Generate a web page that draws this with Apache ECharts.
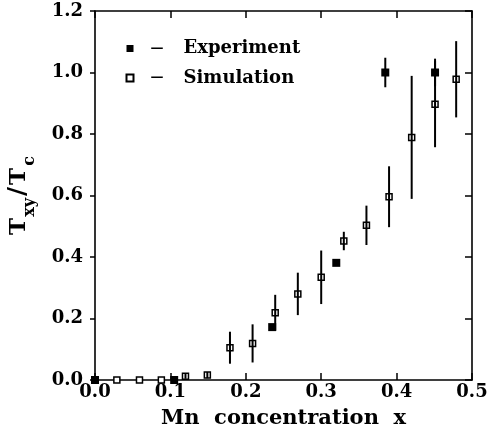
<!DOCTYPE html>
<html>
<head>
<meta charset="utf-8">
<script src="https://cdn.jsdelivr.net/npm/echarts@6/dist/echarts.min.js"></script>
<style>
  html, body { margin: 0; padding: 0; background: #fff; }
  #chart { width: 491px; height: 441px; }
</style>
</head>
<body>
<div id="chart"></div>
<script>
// Measured ordering temperature ratio vs Mn concentration
const expX   = [0, 0.105, 0.235, 0.32, 0.385, 0.451];
const expY   = [0, 0, 0.172, 0.381, 1.0, 1.0];
const expErr = [0, 0, 0, 0, 0.048, 0.045];

// Simulated values with their uncertainties
const simX   = [0.029, 0.059, 0.088, 0.12, 0.149, 0.179, 0.209, 0.239, 0.269, 0.30, 0.33, 0.36, 0.39, 0.42, 0.451, 0.479];
const simY   = [0, 0, 0, 0.012, 0.016, 0.105, 0.119, 0.219, 0.280, 0.334, 0.452, 0.503, 0.596, 0.789, 0.897, 0.978];
const simErr = [0, 0, 0, 0.008, 0.01, 0.052, 0.062, 0.058, 0.069, 0.087, 0.03, 0.064, 0.099, 0.2, 0.14, 0.124];

const xTicks = { min: 0, max: 0.5, step: 0.1 };
const yTicks = { min: 0, max: 1.2, step: 0.2 };

const FONT = "'DejaVu Serif', serif";

const pts = (xs, ys) => xs.map((x, i) => [x, ys[i]]);
const bars = (xs, ys, es) => xs.map((x, i) => [x, ys[i] - es[i], ys[i] + es[i]]).filter((d, i) => es[i] > 0);

function errorBars(api) {
  const a = api.coord([api.value(0), api.value(1)]);
  const b = api.coord([api.value(0), api.value(2)]);
  return {
    type: 'line',
    shape: { x1: a[0], y1: a[1], x2: b[0], y2: b[1] },
    style: { stroke: '#000', lineWidth: 2 }
  };
}

const chart = echarts.init(document.getElementById('chart'));

const axisLine = { show: true, onZero: false, lineStyle: { color: '#000', width: 1.6 } };
const tickIn = { show: true, inside: true, length: 7, lineStyle: { color: '#000', width: 1.5 } };
const tickFont = { fontFamily: FONT, fontWeight: 'bold', fontSize: 18, color: '#000' };

chart.setOption({
  animation: false,
  backgroundColor: '#fff',
  grid: { left: 95, right: 19, top: 11, bottom: 61, outerBoundsMode: 'none', containLabel: false },
  legend: {
    data: ['Experiment', 'Simulation'],
    orient: 'vertical',
    left: 125.5,
    top: 38.5,
    padding: 0,
    itemWidth: 7,
    itemHeight: 7,
    itemGap: 9.5,
    selectedMode: false,
    formatter: name => '{d|—}{t|' + name + '}',
    textStyle: {
      fontFamily: FONT,
      fontWeight: 'bold',
      color: '#000',
      lineHeight: 20,
      rich: {
        d: { fontFamily: FONT, fontWeight: 'bold', fontSize: 13, width: 37, align: 'center', color: '#000' },
        t: { fontFamily: FONT, fontWeight: 'bold', fontSize: 18, color: '#000', padding: [0, 0, 0, 8] }
      }
    }
  },
  xAxis: [{
    type: 'value',
    position: 'bottom',
    min: xTicks.min, max: xTicks.max, interval: xTicks.step,
    name: 'Mn  concentration  x',
    nameLocation: 'middle',
    nameGap: 28,
    nameTextStyle: { fontFamily: FONT, fontWeight: 'bold', fontSize: 21, color: '#000' },
    axisLine: axisLine,
    axisTick: tickIn,
    splitLine: { show: false },
    axisLabel: Object.assign({ margin: 3, formatter: v => v.toFixed(1) }, tickFont)
  }, {
    type: 'value',
    position: 'top',
    min: xTicks.min, max: xTicks.max, interval: xTicks.step,
    axisLine: axisLine,
    axisTick: tickIn,
    axisLabel: { show: false },
    splitLine: { show: false }
  }],
  yAxis: [{
    type: 'value',
    position: 'left',
    min: yTicks.min, max: yTicks.max, interval: yTicks.step,
    name: '{a|T}{s|xy}{sl|/}{a|T}{c|c}',
    nameLocation: 'middle',
    nameRotate: 90,
    nameGap: 64,
    nameTextStyle: {
      rich: {
        a:  { fontFamily: FONT, fontWeight: 'bold', fontSize: 23, color: '#000', lineHeight: 24, verticalAlign: 'bottom' },
        sl: { fontFamily: FONT, fontWeight: 'bold', fontSize: 25, color: '#000', lineHeight: 24, verticalAlign: 'bottom', padding: [0, 2, 0, 1] },
        s:  { fontFamily: FONT, fontWeight: 'bold', fontSize: 16, color: '#000', lineHeight: 24, verticalAlign: 'bottom', padding: [0, 1, -7, 1] },
        c:  { fontFamily: FONT, fontWeight: 'bold', fontSize: 16, color: '#000', lineHeight: 24, verticalAlign: 'bottom', padding: [0, 0, -7, 2] }
      }
    },
    axisLine: axisLine,
    axisTick: { show: true, inside: false, length: 5, lineStyle: { color: '#000', width: 1.5 } },
    splitLine: { show: false },
    axisLabel: Object.assign({ margin: 12, formatter: v => v.toFixed(1) }, tickFont)
  }, {
    type: 'value',
    position: 'right',
    min: yTicks.min, max: yTicks.max, interval: yTicks.step,
    axisLine: axisLine,
    axisTick: tickIn,
    axisLabel: { show: false },
    splitLine: { show: false }
  }],
  series: [{
    name: 'Simulation',
    type: 'scatter',
    data: pts(simX, simY),
    symbol: 'rect',
    symbolSize: 6,
    clip: false,
    z: 2,
    itemStyle: { color: '#fff', borderColor: '#000', borderWidth: 1.5, opacity: 1 }
  }, {
    name: 'Experiment',
    type: 'scatter',
    data: pts(expX, expY),
    symbol: 'rect',
    symbolSize: 8,
    clip: false,
    z: 3,
    itemStyle: { color: '#000', opacity: 1 }
  }, {
    name: 'simErrors',
    type: 'custom',
    data: bars(simX, simY, simErr),
    renderItem: (params, api) => errorBars(api),
    encode: { x: 0, y: [1, 2] },
    clip: false,
    z: 4
  }, {
    name: 'expErrors',
    type: 'custom',
    data: bars(expX, expY, expErr),
    renderItem: (params, api) => errorBars(api),
    encode: { x: 0, y: [1, 2] },
    clip: false,
    z: 4
  }]
});
</script>
</body>
</html>
